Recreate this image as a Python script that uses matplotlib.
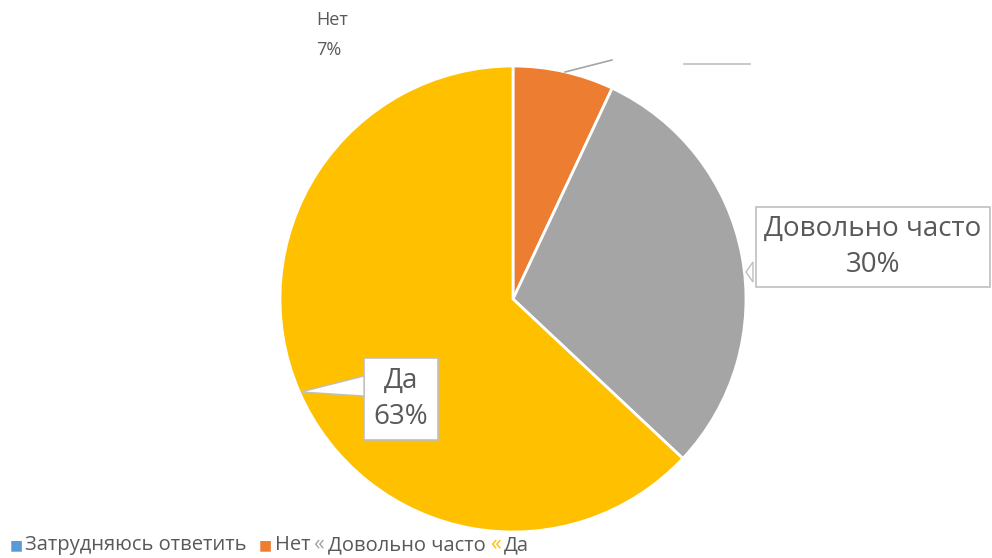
import matplotlib.pyplot as plt
from matplotlib.patches import Polygon

categories = ["Затрудняюсь ответить", "Нет", "Довольно часто", "Да"]
shares = [0, 7, 30, 63]
colors = ["#5B9BD5", "#ED7D31", "#A5A5A5", "#FFC000"]

W, H = 992, 558
text_color = "#595959"
plt.rcParams['font.family'] = ['Open Sans', 'DejaVu Sans']

fig = plt.figure(figsize=(W / 100, H / 100), dpi=100)
ax = fig.add_axes([0, 0, 1, 1])

cx, cy, r = 513, H - 299, 233
ax.pie(shares, colors=colors, startangle=90, counterclock=False,
       center=(cx, cy), radius=r, frame=True,
       wedgeprops=dict(edgecolor='white', linewidth=2))
ax.set_xlim(0, W)
ax.set_ylim(0, H)
ax.set_aspect('equal')
ax.axis('off')

# "Нет" label at the top, with leader line
ax.text(316, H - 20, categories[1], fontsize=13, color=text_color, va='center', ha='left')
ax.text(316, H - 50, f"{shares[1]}%", fontsize=13, color=text_color, va='center', ha='left')
ax.plot([565, 612], [H - 72, H - 60], color="#A5A5A5", lw=1.2)
ax.plot([684, 750], [H - 64, H - 64], color="#BFBFBF", lw=1.2)


def callout(x, y, text, size, pad, tip, base):
    t = ax.text(x, y, text, fontsize=size, color=text_color, ha='center', va='center',
                linespacing=1.35,
                bbox=dict(boxstyle=f'square,pad={pad}', fc='white', ec='#BFBFBF', lw=1.2))
    ax.add_patch(Polygon([base[0], tip, base[1]], closed=True, fc='white',
                         ec='#BFBFBF', lw=1.0, zorder=t.get_zorder() + 1))
    return t


callout(873, H - 247, f"{categories[2]}\n{shares[2]}%", 20, 0.3, (746, H - 272),
        [(753, H - 262), (753, H - 282)])
callout(401, H - 399, f"{categories[3]}\n{shares[3]}%", 20, 0.35, (301, H - 392),
        [(364, H - 376), (364, H - 396)])

# legend line at the bottom
legend_y = H - 545
fs = 14.5
ax.text(10, legend_y, "■", color=colors[0], fontsize=10, va='center', family=['DejaVu Sans'])
ax.text(25, legend_y, categories[0], color=text_color, fontsize=fs, va='center')
ax.text(259, legend_y, "■", color=colors[1], fontsize=10, va='center', family=['DejaVu Sans'])
ax.text(275, legend_y, categories[1], color=text_color, fontsize=fs, va='center')
ax.text(313, legend_y, "«", color=colors[2], fontsize=fs + 1, va='center')
ax.text(328, legend_y, categories[2], color=text_color, fontsize=fs, va='center')
ax.text(490, legend_y, "«", color=colors[3], fontsize=fs + 1, va='center')
ax.text(504, legend_y, categories[3], color=text_color, fontsize=fs, va='center')

fig.savefig("out.png", dpi=100, facecolor='white')
